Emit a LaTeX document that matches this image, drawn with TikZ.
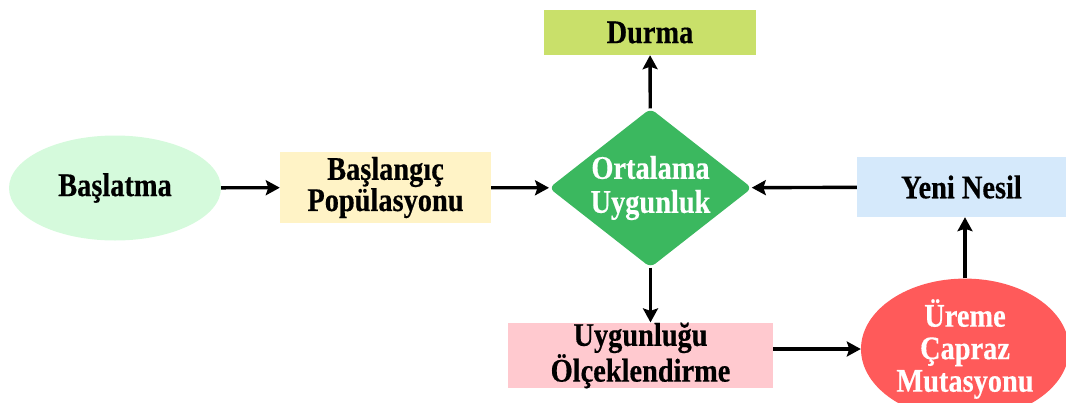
\documentclass[tikz,border=0pt]{standalone}
\usepackage{fontspec}
\setmainfont{Liberation Serif}[FakeStretch=0.86, BoldFeatures={FakeBold=0.4}]
\usetikzlibrary{arrows.meta}
\usetikzlibrary{shapes.geometric}

\definecolor{mintfill}{HTML}{D5FADC}
\definecolor{creamfill}{HTML}{FFF3C6}
\definecolor{limefill}{HTML}{C9E06A}
\definecolor{skyfill}{HTML}{D5E9FB}
\definecolor{rosefill}{HTML}{FFC9CF}
\definecolor{redfill}{HTML}{FF5A5A}
\definecolor{greenfill}{HTML}{3BB85F}

\tikzset{
  base/.style={font=\bfseries\fontsize{33}{33}\selectfont, align=center, inner sep=0pt},
  lead/.style={font=\bfseries\fontsize{33}{#1}\selectfont},
  box/.style={base, rectangle, fill=#1},
  oval/.style={base, ellipse, fill=#1},
  arr/.style={-{Stealth[length=14pt,width=15pt,inset=2.5pt]}, line width=3.4pt, black}
}

\begin{document}
\begin{tikzpicture}[x=1pt, y=-1pt]

    \useasboundingbox (0,0) rectangle (1066,402);
    \clip (0,0) rectangle (1066,402);

                \node[oval=mintfill, minimum width=212pt, minimum height=105pt] (start) at (115,188) {Başlatma};
                \node[box=creamfill, lead=27, minimum width=211pt, minimum height=71pt] (init) at (385.5,187.5) {Başlangıç\\Popülasyonu};
                \node[base, lead=34, diamond, aspect=1.28, fill=greenfill, text=white, rounded corners=6pt, minimum width=203pt, minimum height=159pt] (avg) at (650.5,188) {Ortalama\\Uygunluk};
                \node[box=limefill, minimum width=212pt, minimum height=45pt] (stop) at (650,32.5) {Durma};
                \node[box=skyfill, minimum width=209pt, minimum height=60pt] (new) at (961.5,187) {Yeni Nesil};
                \node[box=rosefill, lead=28, minimum width=265pt, minimum height=61pt] (scale) at (640.5,355.5) {Uygunluğu\\Ölçeklendirme};
                \node[oval=redfill, lead=32.5, text=white, minimum width=208pt, minimum height=116pt] (repr) at (965,349) {Üreme\\Çapraz\\Mutasyonu};

                \draw[arr] (start) -- (init);
                \draw[arr] (init) -- (avg);
                \draw[arr] (new) -- (avg);
                \draw[arr] (avg) -- (stop);
                \draw[arr] (avg.south) -- (avg.south |- scale.north);
                \draw[arr] (scale.east |- repr.west) -- (repr.west);
                \draw[arr] (repr.north) -- (repr.north |- new.south);

            \end{tikzpicture}
\end{document}
